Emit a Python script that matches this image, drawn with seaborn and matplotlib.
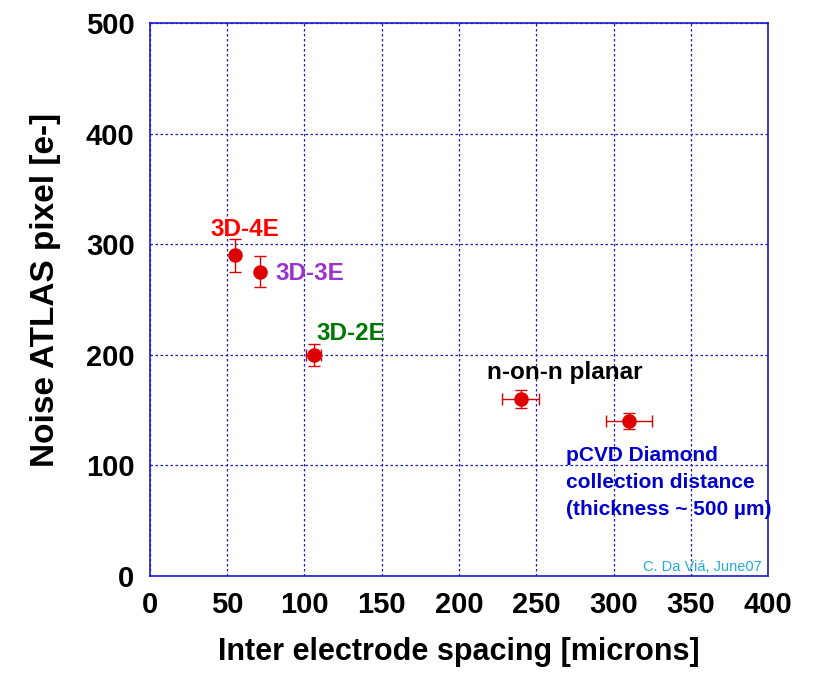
import matplotlib
matplotlib.use("Agg")
import matplotlib.pyplot as plt
import seaborn as sns
import pandas as pd

# Detector types and their measured noise vs electrode spacing
detectors = ["3D-4E", "3D-3E", "3D-2E", "n-on-n planar", "pCVD Diamond"]
spacing = [55, 71, 106, 240, 310]          # microns
spacing_err = [0, 0, 5, 12, 15]
noise = [290, 275, 200, 160, 140]           # electrons
noise_err = [15, 14, 10, 8, 7]

x_ticks = [0, 50, 100, 150, 200, 250, 300, 350, 400]
y_ticks = [0, 100, 200, 300, 400, 500]

df = pd.DataFrame({"detector": detectors, "spacing": spacing, "noise": noise,
                   "xerr": spacing_err, "yerr": noise_err})

sns.set_style("white")
plt.rcParams["font.family"] = ["Liberation Sans", "DejaVu Sans"]
plt.rcParams["text.color"] = "black"
plt.rcParams["axes.labelcolor"] = "black"
plt.rcParams["xtick.color"] = "black"
plt.rcParams["ytick.color"] = "black"

fig = plt.figure(figsize=(8.19, 6.73), dpi=100)
ax = fig.add_axes([0.183, 0.144, 0.755, 0.822])

grid_blue = "#1a1acc"
ax.set_xlim(0, 400)
ax.set_ylim(0, 500)
ax.set_xticks(x_ticks)
ax.set_yticks(y_ticks)
ax.grid(True, color=grid_blue, linestyle=(0, (2, 2)), linewidth=0.9)
ax.set_axisbelow(True)
for s in ax.spines.values():
    s.set_color(grid_blue)
    s.set_linewidth(1.2)
    s.set_visible(True)

red = "#dd0000"
ax.errorbar(df["spacing"], df["noise"], xerr=df["xerr"], yerr=df["yerr"],
            fmt="none", ecolor=red, elinewidth=1.0, capsize=4, capthick=1.0, zorder=3)
sns.scatterplot(data=df, x="spacing", y="noise", ax=ax, color=red, s=110,
                edgecolor=red, linewidth=0, zorder=4, legend=False)

ax.tick_params(axis="x", which="major", labelsize=21, length=0, pad=11)
ax.tick_params(axis="y", which="major", labelsize=21, length=0, pad=11)
for lab in ax.get_xticklabels() + ax.get_yticklabels():
    lab.set_fontweight("bold")

ax.set_xlabel("Inter electrode spacing [microns]", fontsize=22, fontweight="bold", labelpad=13)
ax.set_ylabel("Noise ATLAS pixel [e-]", fontsize=24, fontweight="bold", labelpad=18)
ax.yaxis.label.set_y(0.518)

lab_kw = dict(fontsize=17.5, fontweight="bold")
ax.text(61.5, 313, "3D-4E", color="#ff0000", ha="center", va="center", **lab_kw)
ax.text(81, 273.5, "3D-3E", color="#9933cc", ha="left", va="center", **lab_kw)
ax.text(107.5, 219, "3D-2E", color="#007700", ha="left", va="center", **lab_kw)
ax.text(218, 184, "n-on-n planar", color="#000000", ha="left", va="center", **lab_kw)
ax.text(269, 117.5, "pCVD Diamond\ncollection distance\n(thickness ~ 500 \u00b5m)",
        color="#0000cc", ha="left", va="top", linespacing=1.52,
        fontsize=15, fontweight="bold")
ax.text(396, 8, "C. Da Vi\u00e1, June07", color="#22aadd", ha="right", va="center", fontsize=10.5)

fig.savefig("out.png", dpi=100)
